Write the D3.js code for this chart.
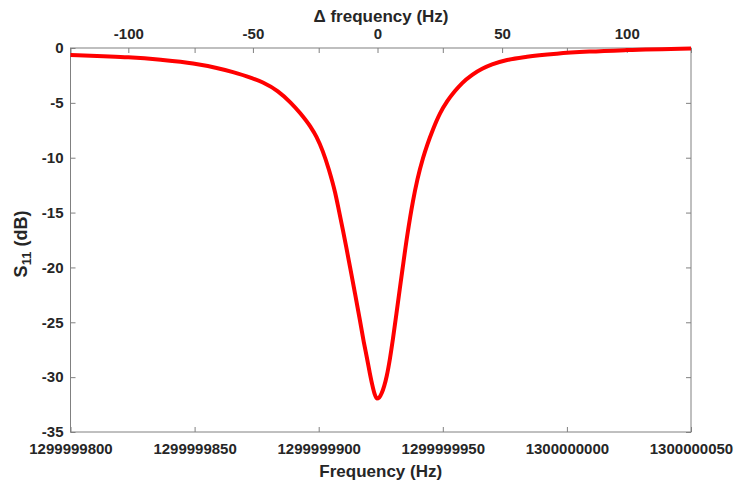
<!DOCTYPE html>
<html>
<head>
<meta charset="utf-8">
<script src="https://cdn.jsdelivr.net/npm/d3@7"></script>
<style>
  html, body { margin: 0; padding: 0; background: #fff; }
  svg { display: block; font-family: "Liberation Sans", Arial, sans-serif; }
  .tick text { font-size: 15px; font-weight: bold; fill: #262626; }
  .tick line { stroke: #808080; }
  .title { font-size: 17px; font-weight: bold; fill: #262626; }
</style>
</head>
<body>
<svg id="chart" width="737" height="486"></svg>
<script>
// Reflection response around resonance: detuning (Hz) and S11 (dB)
const deltaHz = [-123.2, -110, -100, -87, -74, -65, -58, -51, -46, -40, -35, -31, -27, -24.5,
                 -22, -19.5, -17, -15.5, -13.8, -12.5, -11, -9, -7, -5.5, -4.2, -3.2, -2.2,
                 -1.2, -0.3, 0.7, 1.7, 2.7, 3.7, 5, 6.2, 8.2, 10, 12, 14.2, 16, 18.3, 20,
                 22.3, 25, 28, 31, 34, 38, 42, 46, 52, 60, 72, 85, 100, 125.8];
const s11dB   = [-0.64, -0.75, -0.85, -1.08, -1.42, -1.8, -2.2, -2.7, -3.15, -3.95, -4.95, -5.95,
                 -7.15, -8.1, -9.4, -11.1, -13.2, -14.8, -16.7, -18.2, -20.0, -22.4, -24.9, -26.8,
                 -28.3, -29.5, -30.6, -31.5, -31.95, -31.85, -31.45, -30.8, -29.9, -28.3, -26.5,
                 -23.2, -20.2, -17.0, -14.0, -12.0, -10.0, -8.8, -7.4, -6.0, -4.85, -3.95, -3.2,
                 -2.45, -1.9, -1.5, -1.1, -0.8, -0.52, -0.33, -0.19, -0.04];

// Axis ticks
const freqTicks  = [1299999800, 1299999850, 1299999900, 1299999950, 1300000000, 1300000050];
const deltaTicks = [-100, -50, 0, 50, 100];
const dbTicks    = [0, -5, -10, -15, -20, -25, -30, -35];

const freqDomain  = [1299999800, 1300000050];
const deltaDomain = [-123.2, 125.8];
const dbDomain    = [-35, 0];

const plotLeft = 70.5, plotRight = 691, plotTop = 48, plotBottom = 432;
const svg = d3.select("#chart");

const x  = d3.scaleLinear().domain(freqDomain).range([plotLeft, plotRight]);
const xd = d3.scaleLinear().domain(deltaDomain).range([plotLeft, plotRight]);
const y  = d3.scaleLinear().domain(dbDomain).range([plotBottom, plotTop]);

// plain integers with an ASCII hyphen for negatives
const intFmt = d => String(Math.round(d));

function styleAxis(g) {
  g.select(".domain").remove();
  g.selectAll(".tick line").attr("stroke", "#808080");
}

// bottom frequency axis
svg.append("g").attr("transform", `translate(0,${plotBottom})`)
  .call(d3.axisBottom(x).tickValues(freqTicks).tickFormat(intFmt)
        .tickSizeInner(-5).tickSizeOuter(0).tickPadding(11))
  .call(styleAxis);
// mirrored bottom ticks along the top edge
svg.append("g").attr("transform", `translate(0,${plotTop})`)
  .call(d3.axisTop(x).tickValues(freqTicks).tickFormat("")
        .tickSizeInner(-5).tickSizeOuter(0))
  .call(styleAxis);
// top detuning axis
svg.append("g").attr("transform", `translate(0,${plotTop})`)
  .call(d3.axisTop(xd).tickValues(deltaTicks).tickFormat(intFmt)
        .tickSizeInner(-5).tickSizeOuter(0).tickPadding(9.5))
  .call(styleAxis);
// left dB axis
svg.append("g").attr("transform", `translate(${plotLeft},0)`)
  .call(d3.axisLeft(y).tickValues(dbTicks).tickFormat(intFmt)
        .tickSizeInner(-5).tickSizeOuter(0).tickPadding(7))
  .call(styleAxis);
// mirrored ticks on right
svg.append("g").attr("transform", `translate(${plotRight},0)`)
  .call(d3.axisRight(y).tickValues(dbTicks).tickFormat("")
        .tickSizeInner(-5).tickSizeOuter(0))
  .call(styleAxis);

svg.selectAll(".tick text").style("font-family", "'Liberation Sans', Arial, sans-serif");

// plot box
svg.append("rect")
  .attr("x", plotLeft).attr("y", plotTop)
  .attr("width", plotRight - plotLeft).attr("height", plotBottom - plotTop)
  .attr("fill", "none").attr("stroke", "#808080").attr("stroke-width", 1);

// response curve
const line = d3.line()
  .x((d, i) => xd(deltaHz[i]))
  .y(d => y(d))
  .curve(d3.curveMonotoneX);

svg.append("path")
  .datum(s11dB)
  .attr("d", line)
  .attr("fill", "none")
  .attr("stroke", "#ff0000")
  .attr("stroke-width", 4)
  .attr("stroke-linejoin", "round");

// titles
svg.append("text").attr("class", "title")
  .attr("x", (plotLeft + plotRight) / 2).attr("y", 477)
  .attr("text-anchor", "middle").text("Frequency (Hz)");

svg.append("text").attr("class", "title")
  .attr("x", 381).attr("y", 21.5)
  .attr("text-anchor", "middle").text("\u0394 frequency (Hz)");

const yt = svg.append("text").attr("class", "title")
  .attr("transform", "translate(27,244) rotate(-90)")
  .attr("text-anchor", "middle")
  .style("font-size", "18px");
yt.append("tspan").text("S");
yt.append("tspan").attr("dy", 4).style("font-size", "13px").text("11");
yt.append("tspan").attr("dy", -4).text(" (dB)");
</script>
</body>
</html>
